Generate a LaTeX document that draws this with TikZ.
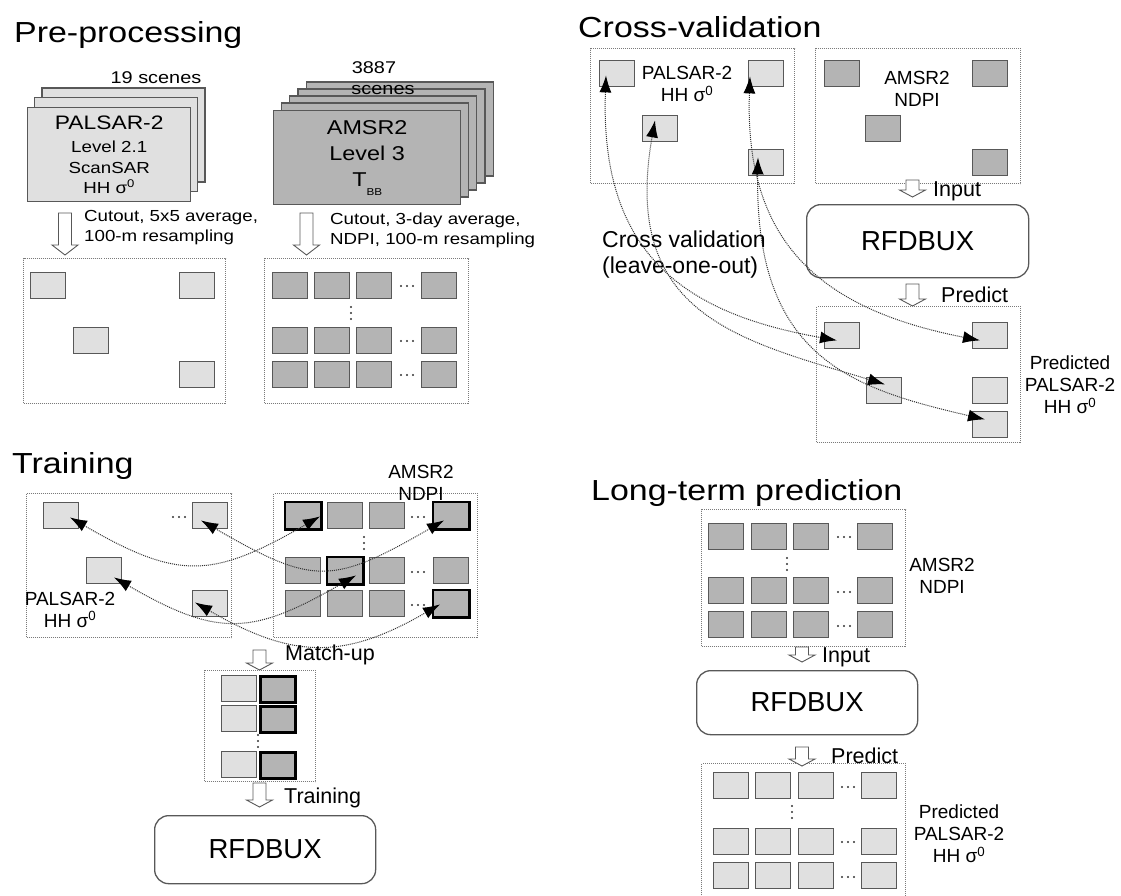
\documentclass[tikz,border=0pt]{standalone}
\usepackage{fontspec}
\setmainfont{Liberation Sans}
\newfontfamily\widefont{Liberation Sans}[FakeStretch=1.17]
\usetikzlibrary{arrows.meta}

\definecolor{palgray}{HTML}{E0E0E0}
\definecolor{amsgray}{HTML}{B4B4B4}
\definecolor{edgegray}{HTML}{585858}
\definecolor{framegray}{HTML}{7A7A7A}
\definecolor{linkgray}{HTML}{333333}

\newcommand{\hollowdown}[4]{%
  \draw[hollowarrow] ({#1-6.5},#2) -- ({#1+6.5},#2) -- ({#1+6.5},{#3+#4}) -- ({#1+13},{#3+#4})
    -- (#1,#3) -- ({#1-13},{#3+#4}) -- ({#1-6.5},{#3+#4}) -- cycle;}
\newcommand{\rowdots}[2]{\foreach \k in {-6,0,6} {\fill[linkgray] ({#1+\k},#2) circle (1.2);}}
\newcommand{\coldots}[2]{\foreach \k in {-6,0,6} {\fill[linkgray] (#1,{#2+\k}) circle (1.2);}}

\begin{document}
\begin{tikzpicture}[x=1pt,y=1pt,
  pbox/.style={draw=edgegray,fill=palgray,line width=1.4,minimum width=35,minimum height=26,anchor=north west},
  abox/.style={pbox,fill=amsgray},
  matched/.style={draw=black,line width=2.6},
  dotframe/.style={draw=framegray,densely dotted,line width=1,anchor=north west},
  stackP/.style={draw=edgegray,fill=palgray,line width=1.4},
  stackA/.style={stackP,fill=amsgray},
  hollowarrow/.style={draw=edgegray,fill=white,line width=0.9},
  rfbox/.style={draw=edgegray,line width=1.3,rounded corners=14,anchor=north west,font=\fontsize{27.5}{30}\selectfont},
  curvelink/.style={draw=linkgray,densely dotted,line width=1,
    {Latex[length=17pt,width=12pt,color=black]}-{Latex[length=17pt,width=12pt,color=black]}},
  heading/.style={anchor=base west,font=\widefont\fontsize{29}{32}\selectfont},
  lbl/.style={align=center,font=\fontsize{19}{22}\selectfont},
  steplbl/.style={anchor=base west,font=\fontsize{21.5}{24}\selectfont}]
\tikzstyle{every node}+=[inner sep=0pt]
\useasboundingbox (0,0) rectangle (1121,-895);

\node[heading] (ppT) at (14,-42) {Pre-processing};
\foreach \k in {2,1}
  \draw[stackP] ({27+7.5*\k},{-107+9.5*\k}) rectangle +(163,-94);
\node[stackP,anchor=north west,minimum width=163,minimum height=94,align=center,font=\widefont\fontsize{16}{20.5}\selectfont] (ppPal) at (27,-107)
  {{\fontsize{19.5}{21}\selectfont PALSAR-2}\\[3pt]Level 2.1\\ScanSAR\\HH σ\textsuperscript{0}};
\node[font=\widefont\fontsize{17}{20}\selectfont] (ppNp) at (156,-78) {19 scenes};
\foreach \k in {4,3,2,1}
  \draw[stackA] ({273+8.3*\k},{-110+7*\k}) rectangle +(187,-94);
\node[stackA,anchor=north west,minimum width=187,minimum height=94,align=center,font=\widefont\fontsize{20}{26}\selectfont] (ppAms) at (273,-110)
  {AMSR2\\Level 3\\T\raisebox{-9pt}{\fontsize{10}{10}\selectfont BB}};
\node[font=\widefont\fontsize{17}{20}\selectfont] (ppNa) at (374,-68) {3887};
\node[font=\widefont\fontsize{17}{20}\selectfont] (ppNs) at (383,-90) {scenes};
\hollowdown{65}{-213}{-255}{10}
\hollowdown{306.5}{-213}{-255}{10}
\node[anchor=west,align=left,font=\widefont\fontsize{16}{20}\selectfont] (ppCp) at (84,-228) {Cutout, 5x5 average,\\100-m resampling};
\node[anchor=west,align=left,font=\widefont\fontsize{16}{20}\selectfont] (ppCa) at (330,-230) {Cutout, 3-day average,\\NDPI, 100-m resampling};
\node[dotframe,minimum width=202,minimum height=145] (ppFp) at (23,-258) {};
\node[pbox] (ppP1) at (30,-272) {};
\node[pbox] (ppP2) at (179,-272) {};
\node[pbox] (ppP3) at (73,-327) {};
\node[pbox] (ppP4) at (179,-361) {};
\node[dotframe,minimum width=204,minimum height=145] (ppFa) at (264,-258) {};
\foreach \r/\y in {1/272,2/327,3/361}
  \foreach \c/\x in {1/272,2/314,3/356,4/421}
    \node[abox] (ppA\r\c) at (\x,-\y) {};
\foreach \y in {286,341,375} {\rowdots{407}{-\y}}
\coldots{351}{-313}

\node[heading] (cvT) at (578,-37) {Cross-validation};
\node[dotframe,minimum width=204,minimum height=135] (cvFp) at (590,-48) {};
\node[pbox] (cvP1) at (599,-60) {};
\node[pbox] (cvP2) at (748,-60) {};
\node[pbox] (cvP3) at (642,-115) {};
\node[pbox] (cvP4) at (748,-149) {};
\node[lbl] (cvLp) at (687,-84) {PALSAR-2\\HH σ\textsuperscript{0}};
\node[dotframe,minimum width=205,minimum height=135] (cvFa) at (815,-48) {};
\node[abox] (cvA1) at (824,-60) {};
\node[abox] (cvA2) at (972,-60) {};
\node[abox] (cvA3) at (865,-115) {};
\node[abox] (cvA4) at (972,-149) {};
\node[lbl] (cvLa) at (917,-88.5) {AMSR2\\NDPI};
\hollowdown{912.5}{-180}{-197}{7}
\node[steplbl] (cvIn) at (933,-196) {Input};
\node[rfbox,minimum width=222,minimum height=73] (cvR) at (806,-204) {RFDBUX};
\hollowdown{912.5}{-284}{-306}{7}
\node[steplbl] (cvPr) at (941,-302) {Predict};
\node[dotframe,minimum width=204,minimum height=136] (cvFq) at (816,-306) {};
\node[pbox] (cvQ1) at (824,-322) {};
\node[pbox] (cvQ2) at (972,-322) {};
\node[pbox] (cvQ3) at (866,-377) {};
\node[pbox] (cvQ4) at (972,-377) {};
\node[pbox] (cvQ5) at (972,-411) {};
\node[lbl] (cvLq) at (1070,-384.5) {Predicted\\PALSAR-2\\HH σ\textsuperscript{0}};
\node[anchor=west,align=left,font=\fontsize{23}{26}\selectfont] (cvLo) at (602,-255) {Cross validation\\(leave-one-out)};
\draw[curvelink] ([shift={(7,12)}]cvP1.south west) to[out=-92,in=170,out looseness=1.32,in looseness=1.1] ([shift={(13,9)}]cvQ1.south west);
\draw[curvelink] ([shift={(2,11)}]cvP2.south west) to[out=-92,in=169,looseness=1.2] ([shift={(8,9)}]cvQ2.south west);
\draw[curvelink] ([shift={(13,22)}]cvP3.south west) to[out=-100,in=163,out looseness=1.45,in looseness=1.1] ([shift={(19,20)}]cvQ3.south west);
\draw[curvelink] ([shift={(10,19)}]cvP4.south west) to[out=-91,in=167,out looseness=1.47,in looseness=1.03] ([shift={(13,19)}]cvQ5.south west);

\node[heading] (trT) at (12,-473) {Training};
\node[dotframe,minimum width=205,minimum height=144] (trFp) at (26,-493) {};
\node[pbox] (trP1) at (43,-502) {};
\node[pbox] (trP2) at (192,-502) {};
\node[pbox] (trP3) at (86,-557) {};
\node[pbox] (trP4) at (192,-590) {};
\rowdots{179}{-517}
\node[lbl] (trLp) at (70,-609.5) {PALSAR-2\\HH σ\textsuperscript{0}};
\node[dotframe,minimum width=204,minimum height=144] (trFa) at (273,-493) {};
\foreach \r/\y in {1/502,2/557,3/590}
  \foreach \c/\x in {1/285,2/327,3/369,4/433}
    \node[abox] (trA\r\c) at (\x,-\y) {};
\foreach \n in {trA11,trA14,trA22,trA34}
  \draw[matched] (\n.north west) rectangle (\n.south east);
\foreach \y in {517,572,605} {\rowdots{418}{-\y}}
\coldots{364}{-543}
\node[lbl] (trLa) at (421,-482.5) {AMSR2\\NDPI};
\draw[curvelink] ([shift={(27,12)}]trP1.south west) to[out=-30,in=-150,looseness=1.28] ([shift={(35,13)}]trA11.south west);
\draw[curvelink] ([shift={(9,9)}]trP2.south west) to[out=-30,in=-150,looseness=1.37] ([shift={(11,9)}]trA14.south west);
\draw[curvelink] ([shift={(28,7)}]trP3.south west) to[out=-30,in=-150,looseness=1.27] ([shift={(29,9)}]trA22.south west);
\draw[curvelink] ([shift={(3,15)}]trP4.south west) to[out=-30,in=-150,looseness=1.17] ([shift={(7,13)}]trA34.south west);
\hollowdown{259.5}{-650}{-670}{7}
\node[steplbl] (trMu) at (285,-660) {Match-up};
\node[dotframe,minimum width=111,minimum height=111] (trFm) at (204,-670) {};
\foreach \r/\y in {1/675,2/705,3/751} {
  \node[pbox] (trMp\r) at (221,-\y) {};
  \node[abox,matched] (trMa\r) at (259,-\y) {};
}
\coldots{258}{-741}
\hollowdown{259.5}{-783}{-807}{7}
\node[steplbl] (trTr) at (284,-803) {Training};
\node[rfbox,minimum width=221,minimum height=68] (trR) at (154,-815) {RFDBUX};

\node[heading] (ltT) at (591,-500) {Long-term prediction};
\node[dotframe,minimum width=204,minimum height=137] (ltFa) at (701,-509) {};
\foreach \r/\y in {1/523,2/577,3/611}
  \foreach \c/\x in {1/708,2/751,3/793,4/857}
    \node[abox] (ltA\r\c) at (\x,-\y) {};
\foreach \y in {537,592,626} {\rowdots{844}{-\y}}
\coldots{787}{-564}
\node[lbl] (ltLa) at (942,-576) {AMSR2\\NDPI};
\hollowdown{802}{-647}{-662}{7}
\node[steplbl] (ltIn) at (822,-662) {Input};
\node[rfbox,minimum width=221,minimum height=64] (ltR) at (696,-670) {RFDBUX};
\node[dotframe,minimum width=204,minimum height=134] (ltFq) at (701,-763) {};
\hollowdown{802}{-747}{-766}{7}
\node[steplbl] (ltPr) at (831,-763) {Predict};
\foreach \r/\y in {1/772,2/828,3/862}
  \foreach \c/\x in {1/713,2/755,3/798,4/861}
    \node[pbox] (ltQ\r\c) at (\x,-\y) {};
\foreach \y in {787,842,877} {\rowdots{848}{-\y}}
\coldots{792}{-812}
\node[lbl] (ltLq) at (959,-833.5) {Predicted\\PALSAR-2\\HH σ\textsuperscript{0}};
\end{tikzpicture}
\end{document}
